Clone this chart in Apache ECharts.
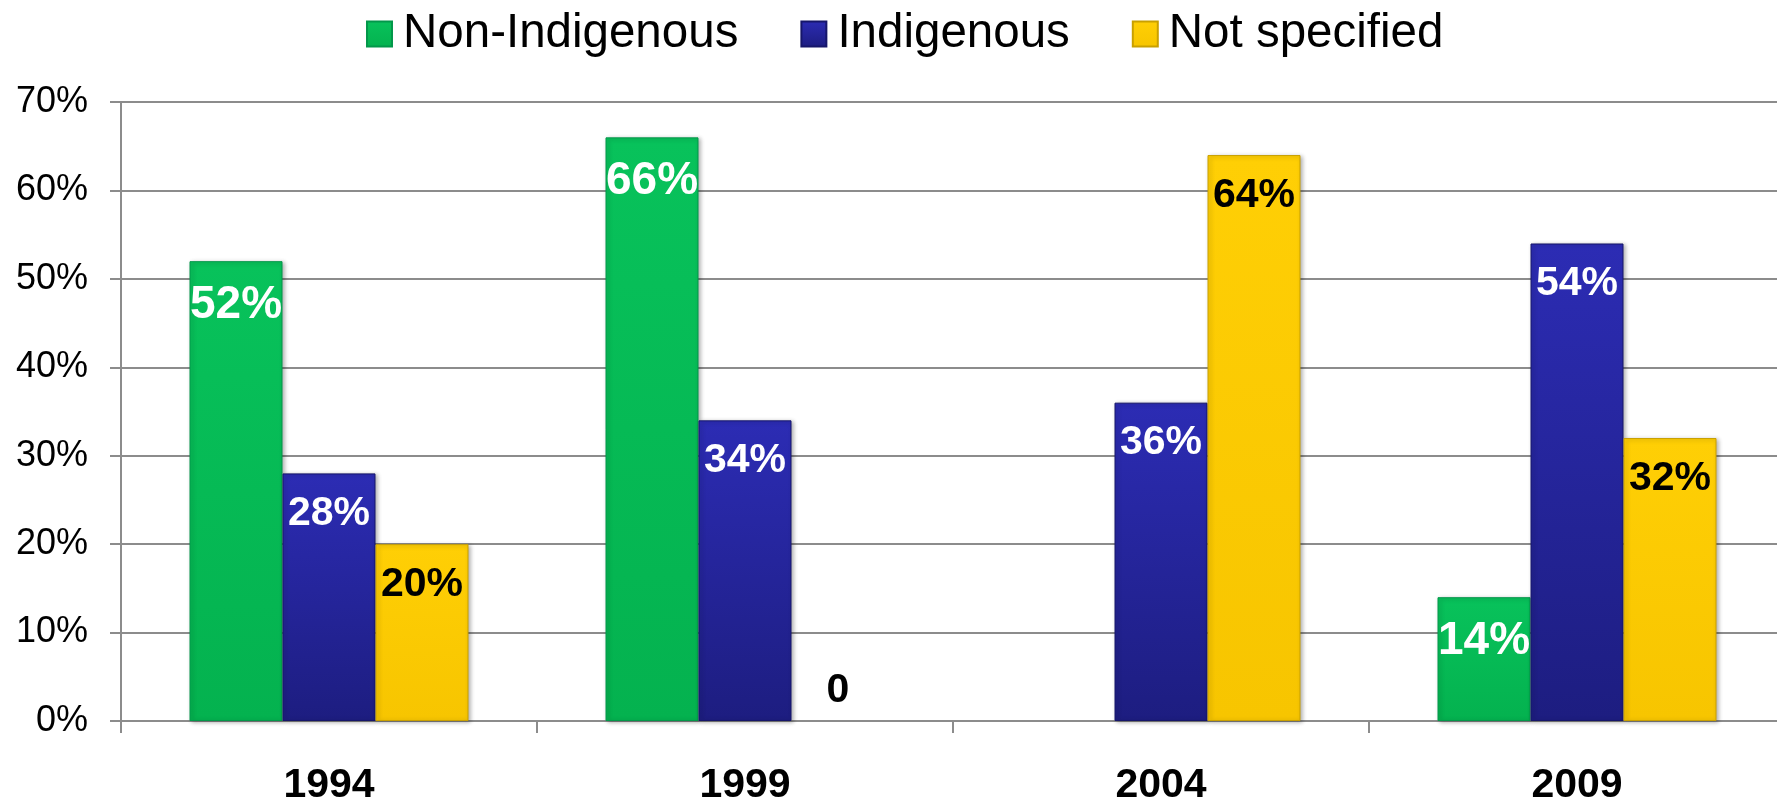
<!DOCTYPE html>
<html>
<head>
<meta charset="utf-8">
<script src="https://cdn.jsdelivr.net/npm/echarts@6/dist/echarts.min.js"></script>
<style>
  html, body { margin: 0; padding: 0; background: #ffffff; }
  #chart { width: 1777px; height: 800px; }
</style>
</head>
<body>
<div id="chart"></div>
<script>
const categories = ['1994', '1999', '2004', '2009'];
const seriesNames = ['Non-Indigenous', 'Indigenous', 'Not specified'];
const nonIndigenous = [52, 66, null, 14];
const indigenous = [28, 34, 36, 54];
const notSpecified = [20, 0, 64, 32];
const yTicks = [0, 10, 20, 30, 40, 50, 60, 70];

const FONT = '"Liberation Sans", Arial, Helvetica, sans-serif';

function grad(top, bottom) {
  return new echarts.graphic.LinearGradient(0, 0, 0, 1, [
    { offset: 0, color: top },
    { offset: 1, color: bottom }
  ]);
}

const styles = [
  { fill: grad('#08C25B', '#04B24F'), border: '#03974A', label: '#ffffff', fontSize: 46, distance: 21 },
  { fill: grad('#2C2CB4', '#1D1D80'), border: '#16166A', label: '#ffffff', fontSize: 41, distance: 20 },
  { fill: grad('#FFCF05', '#F7C500'), border: '#C9A000', label: '#000000', fontSize: 41, distance: 20 }
];

const dataSets = [nonIndigenous, indigenous, notSpecified];

function buildData(arr) {
  return arr.map(v => {
    if (v === 0) {
      return {
        value: 0,
        itemStyle: { borderWidth: 0, color: 'rgba(0,0,0,0)', shadowBlur: 0, shadowOffsetX: 0, shadowOffsetY: 0 },
        label: { position: 'top', distance: 10 }
      };
    }
    return v;
  });
}

const series = seriesNames.map((name, i) => ({
  name: name,
  type: 'bar',
  data: buildData(dataSets[i]),
  barWidth: 93,
  barGap: '0%',
  itemStyle: {
    color: styles[i].fill,
    borderColor: styles[i].border,
    borderWidth: 1,
    shadowColor: 'rgba(0,0,0,0.30)',
    shadowBlur: 4,
    shadowOffsetX: 2,
    shadowOffsetY: 1
  },
  label: {
    show: true,
    position: 'insideTop',
    distance: styles[i].distance,
    color: styles[i].label,
    fontFamily: FONT,
    fontWeight: 'bold',
    fontSize: styles[i].fontSize,
    formatter: p => (p.value === 0 ? '0' : p.value + '%')
  },
  emphasis: { disabled: true }
}));

const chart = echarts.init(document.getElementById('chart'), null, { renderer: 'canvas' });
chart.setOption({
  animation: false,
  backgroundColor: '#ffffff',
  legend: {
    show: true,
    left: 366,
    top: 10,
    padding: 0,
    itemWidth: 25,
    itemHeight: 25,
    itemGap: 62,
    icon: 'rect',
    textStyle: {
      fontFamily: FONT,
      fontSize: 47.5,
      color: '#000000',
      padding: [0, 0, 0, 6]
    },
    data: seriesNames
  },
  grid: {
    left: 121,
    right: -8,
    top: 102,
    bottom: 79,
    containLabel: false,
    outerBoundsMode: 'none'
  },
  xAxis: {
    type: 'category',
    data: categories,
    axisLine: { show: true, lineStyle: { color: '#8c8c8c', width: 2 } },
    axisTick: { show: true, alignWithLabel: false, length: 12, lineStyle: { color: '#8c8c8c', width: 2 } },
    axisLabel: {
      margin: 44,
      fontFamily: FONT,
      fontWeight: 'bold',
      fontSize: 41,
      color: '#000000'
    }
  },
  yAxis: {
    type: 'value',
    min: yTicks[0],
    max: yTicks[yTicks.length - 1],
    interval: 10,
    axisLine: { show: true, lineStyle: { color: '#8c8c8c', width: 2 } },
    axisTick: { show: true, length: 11, lineStyle: { color: '#8c8c8c', width: 2 } },
    splitLine: { show: true, lineStyle: { color: '#8c8c8c', width: 2 } },
    axisLabel: {
      margin: 33,
      fontFamily: FONT,
      fontSize: 36,
      color: '#000000',
      formatter: v => v + '%'
    }
  },
  series: series
});
</script>
</body>
</html>
